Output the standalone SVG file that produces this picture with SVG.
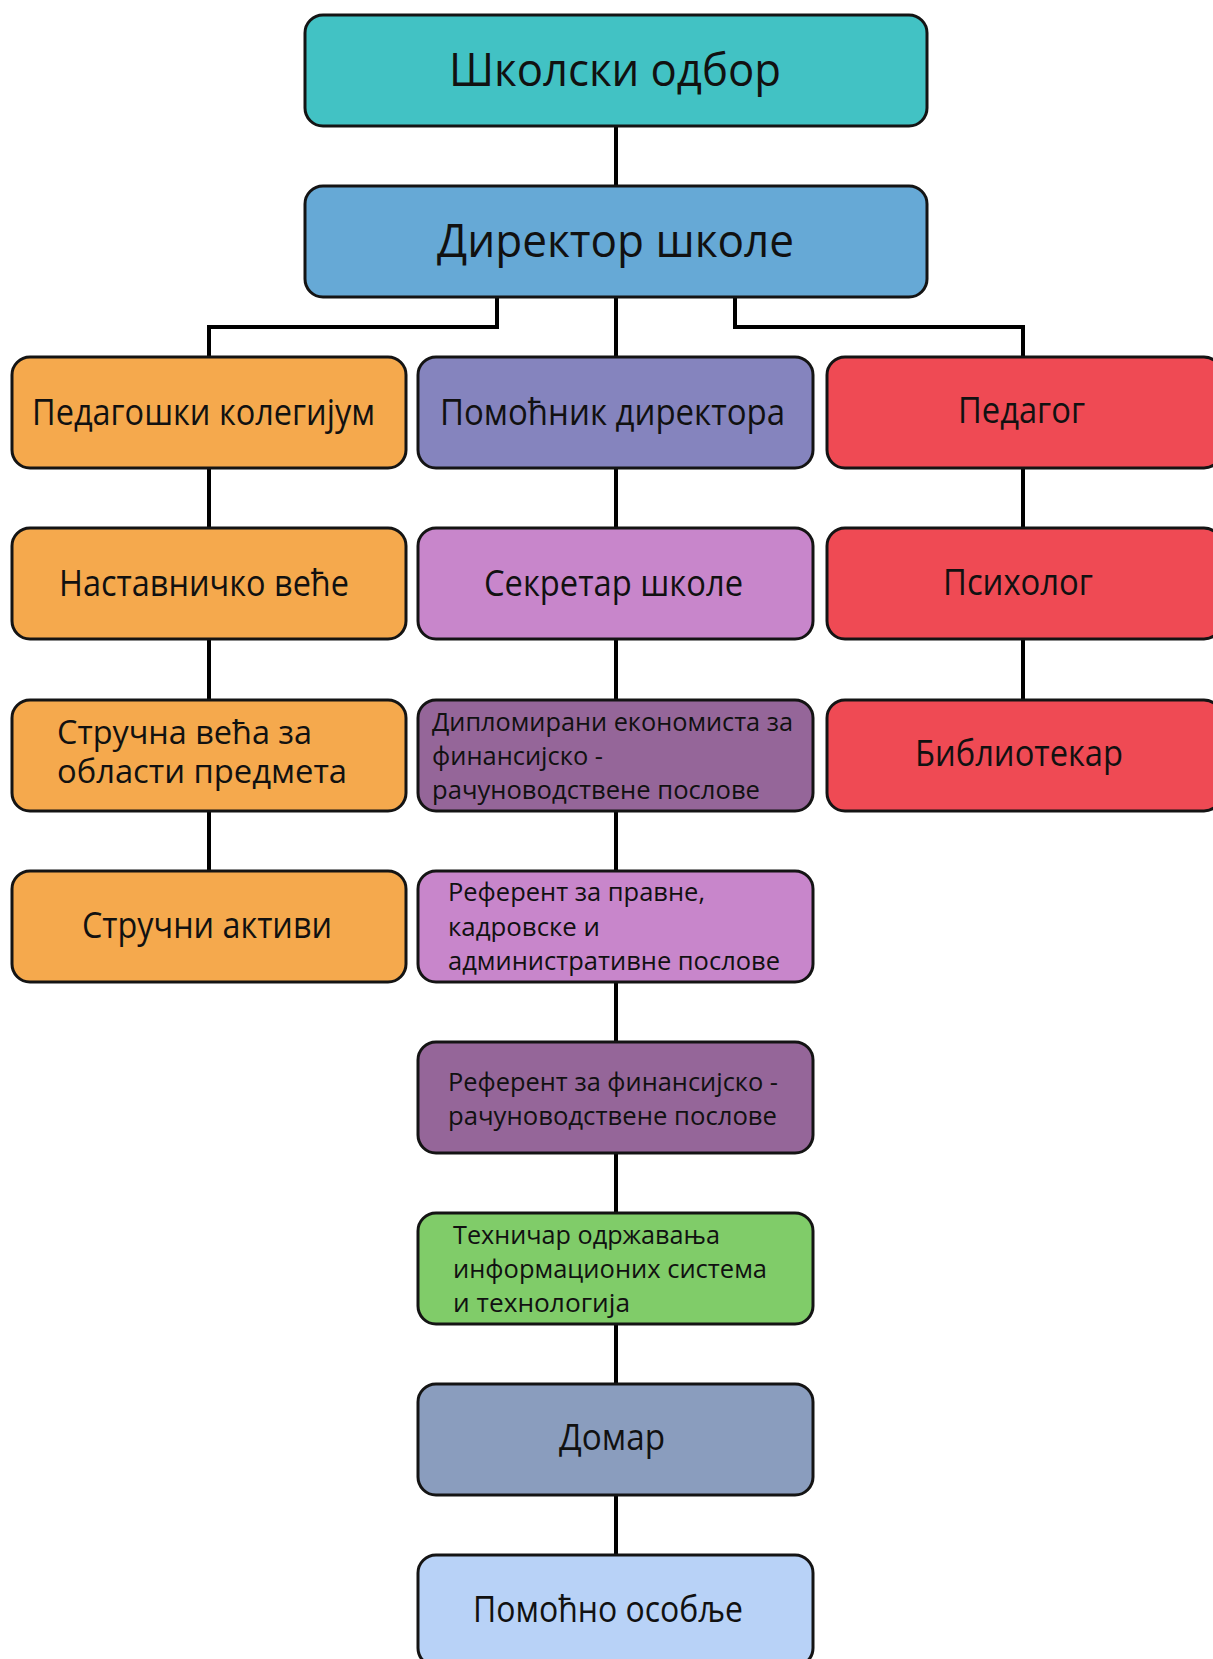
<svg xmlns="http://www.w3.org/2000/svg" width="1213" height="1659" viewBox="0 0 1213 1659">
<style>
.box{stroke:#141414;stroke-width:3}
.t{font-family:"Open Sans","Noto Sans","DejaVu Sans",sans-serif;fill:#111}
.big{font-size:46px}
.mid{font-size:36px}
.m2{font-size:32px}
.sm{font-size:26px}
.c{stroke:#000;stroke-width:4;fill:none}
</style>
<rect width="1213" height="1659" fill="#fff"/>
<g id="connectors">
<line class="c" x1="616" y1="126" x2="616" y2="186"/>
<line class="c" x1="616" y1="297" x2="616" y2="1555"/>
<path class="c" d="M497 297V327H209V357"/>
<path class="c" d="M735 297V327H1023V357"/>
<line class="c" x1="209" y1="468" x2="209" y2="871"/>
<line class="c" x1="1023" y1="468" x2="1023" y2="700"/>
</g>
<g id="skolski-odbor"><rect class="box" x="305" y="15" width="622" height="111" rx="18" fill="#42C2C4"/><text class="t big" x="449" y="86" textLength="332" lengthAdjust="spacingAndGlyphs">Школски одбор</text></g>
<g id="direktor"><rect class="box" x="305" y="186" width="622" height="111" rx="18" fill="#66A9D6"/><text class="t big" x="437" y="257" textLength="357" lengthAdjust="spacingAndGlyphs">Директор школе</text></g>

<g id="pedagoski-kolegijum"><rect class="box" x="12" y="357" width="394" height="111" rx="18" fill="#F5A94D"/><text class="t mid" x="32" y="425" textLength="343" lengthAdjust="spacingAndGlyphs">Педагошки колегијум</text></g>
<g id="nastavnicko-vece"><rect class="box" x="12" y="528" width="394" height="111" rx="18" fill="#F5A94D"/><text class="t mid" x="59" y="596" textLength="290" lengthAdjust="spacingAndGlyphs">Наставничко веће</text></g>
<g id="strucna-veca"><rect class="box" x="12" y="700" width="394" height="111" rx="18" fill="#F5A94D"/><text class="t m2" x="57" y="744" textLength="255" lengthAdjust="spacingAndGlyphs">Стручна већа за</text><text class="t m2" x="57" y="783" textLength="290" lengthAdjust="spacingAndGlyphs">области предмета</text></g>
<g id="strucni-aktivi"><rect class="box" x="12" y="871" width="394" height="111" rx="18" fill="#F5A94D"/><text class="t mid" x="82" y="938" textLength="250" lengthAdjust="spacingAndGlyphs">Стручни активи</text></g>

<g id="pomocnik-direktora"><rect class="box" x="418" y="357" width="395" height="111" rx="18" fill="#8584BE"/><text class="t mid" x="440" y="425" textLength="345" lengthAdjust="spacingAndGlyphs">Помоћник директора</text></g>
<g id="sekretar"><rect class="box" x="418" y="528" width="395" height="111" rx="18" fill="#C886CB"/><text class="t mid" x="484" y="596" textLength="259" lengthAdjust="spacingAndGlyphs">Секретар школе</text></g>
<g id="diplomirani-ekonomista"><rect class="box" x="418" y="700" width="395" height="111" rx="18" fill="#956699"/><text class="t sm" x="432" y="731" textLength="361" lengthAdjust="spacingAndGlyphs">Дипломирани економиста за</text><text class="t sm" x="432" y="765" textLength="171" lengthAdjust="spacingAndGlyphs">финансијско -</text><text class="t sm" x="432" y="799" textLength="328" lengthAdjust="spacingAndGlyphs">рачуноводствене послове</text></g>
<g id="referent-pravne"><rect class="box" x="418" y="871" width="395" height="111" rx="18" fill="#C886CB"/><text class="t sm" x="448" y="901" textLength="257" lengthAdjust="spacingAndGlyphs">Референт за правне,</text><text class="t sm" x="448" y="936" textLength="152" lengthAdjust="spacingAndGlyphs">кадровске и</text><text class="t sm" x="448" y="970" textLength="332" lengthAdjust="spacingAndGlyphs">административне послове</text></g>
<g id="referent-finansijsko"><rect class="box" x="418" y="1042" width="395" height="111" rx="18" fill="#956699"/><text class="t sm" x="448" y="1091" textLength="330" lengthAdjust="spacingAndGlyphs">Референт за финансијско -</text><text class="t sm" x="448" y="1125" textLength="329" lengthAdjust="spacingAndGlyphs">рачуноводствене послове</text></g>
<g id="tehnicar"><rect class="box" x="418" y="1213" width="395" height="111" rx="18" fill="#80CC69"/><text class="t sm" x="453" y="1244" textLength="267" lengthAdjust="spacingAndGlyphs">Техничар одржавања</text><text class="t sm" x="453" y="1278" textLength="314" lengthAdjust="spacingAndGlyphs">информационих система</text><text class="t sm" x="453" y="1312" textLength="177" lengthAdjust="spacingAndGlyphs">и технологија</text></g>
<g id="domar"><rect class="box" x="418" y="1384" width="395" height="111" rx="18" fill="#8A9DBE"/><text class="t mid" x="559" y="1450" textLength="106" lengthAdjust="spacingAndGlyphs">Домар</text></g>
<g id="pomocno-osoblje"><rect class="box" x="418" y="1555" width="395" height="111" rx="18" fill="#B8D2F7"/><text class="t mid" x="473" y="1622" textLength="270" lengthAdjust="spacingAndGlyphs">Помоћно особље</text></g>

<g id="pedagog"><rect class="box" x="827" y="357" width="395" height="111" rx="18" fill="#EF4A54"/><text class="t mid" x="958" y="423" textLength="127" lengthAdjust="spacingAndGlyphs">Педагог</text></g>
<g id="psiholog"><rect class="box" x="827" y="528" width="395" height="111" rx="18" fill="#EF4A54"/><text class="t mid" x="943" y="595" textLength="150" lengthAdjust="spacingAndGlyphs">Психолог</text></g>
<g id="bibliotekar"><rect class="box" x="827" y="700" width="395" height="111" rx="18" fill="#EF4A54"/><text class="t mid" x="915" y="766" textLength="208" lengthAdjust="spacingAndGlyphs">Библиотекар</text></g>
</svg>
